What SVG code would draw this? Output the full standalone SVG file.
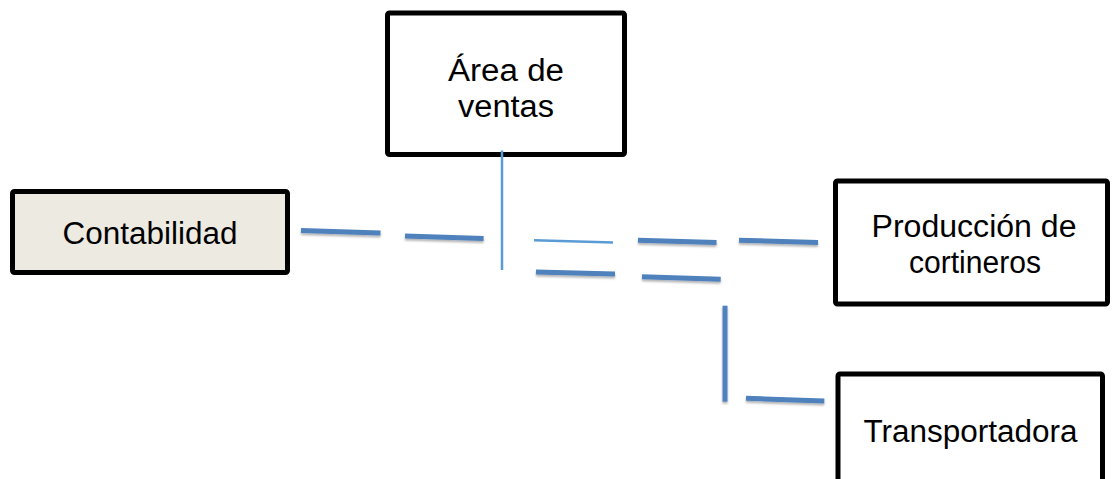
<svg xmlns="http://www.w3.org/2000/svg" width="1112" height="479" viewBox="0 0 1112 479">
<defs>
<style>
.box{fill:#ffffff;stroke:#000;stroke-width:5}
.lbl{font-family:"Liberation Sans",Arial,sans-serif;font-size:31px;fill:#000;text-anchor:middle}
.dash{stroke:#4f81bd;stroke-width:5;fill:none}
.thin{stroke:#5b9bd5;stroke-width:2.5;fill:none}
</style>
<filter id="sh" x="-10%" y="-100%" width="120%" height="400%">
<feDropShadow dx="0" dy="2" stdDeviation="1.2" flood-color="#000" flood-opacity="0.3"/>
</filter>
</defs>
<rect width="1112" height="479" fill="#fff"/>
<g id="contabilidad">
<rect class="box" x="12.5" y="191.5" width="275" height="81" rx="2" style="fill:#edeae1"/>
<text class="lbl" x="150" y="244" textLength="175" lengthAdjust="spacingAndGlyphs">Contabilidad</text>
</g>
<g id="area-ventas">
<rect class="box" x="387.5" y="13" width="237" height="141.5" rx="2"/>
<text class="lbl" x="506" y="81" textLength="116" lengthAdjust="spacingAndGlyphs">Área de</text>
<text class="lbl" x="506" y="117" textLength="96" lengthAdjust="spacingAndGlyphs">ventas</text>
</g>
<g id="produccion">
<rect class="box" x="835.5" y="181" width="272" height="123" rx="2"/>
<text class="lbl" x="974" y="237" textLength="205" lengthAdjust="spacingAndGlyphs">Producción de</text>
<text class="lbl" x="975" y="273" textLength="132" lengthAdjust="spacingAndGlyphs">cortineros</text>
</g>
<g id="transportadora">
<rect class="box" x="838" y="374" width="264.5" height="120" rx="2"/>
<text class="lbl" x="970.5" y="442" textLength="214" lengthAdjust="spacingAndGlyphs">Transportadora</text>
</g>
<g id="connectors">
<g filter="url(#sh)">
<line class="dash" x1="301" y1="230.5" x2="380.5" y2="233"/>
<line class="dash" x1="405" y1="236" x2="483.6" y2="238.6"/>
<line class="dash" x1="638" y1="240.3" x2="716.5" y2="242.4"/>
<line class="dash" x1="739" y1="240.3" x2="818" y2="242.4"/>
<line class="dash" x1="536" y1="272" x2="615" y2="274"/>
<line class="dash" x1="642" y1="276.8" x2="720.7" y2="279.2"/>
<line class="dash" x1="725" y1="305.7" x2="725" y2="401.7"/>
<line class="dash" x1="746" y1="398.3" x2="824.3" y2="401"/>
</g>
<line class="thin" x1="534" y1="240.3" x2="613" y2="242.4"/>
<line class="thin" x1="502" y1="150.5" x2="502" y2="270"/>
</g>
</svg>
